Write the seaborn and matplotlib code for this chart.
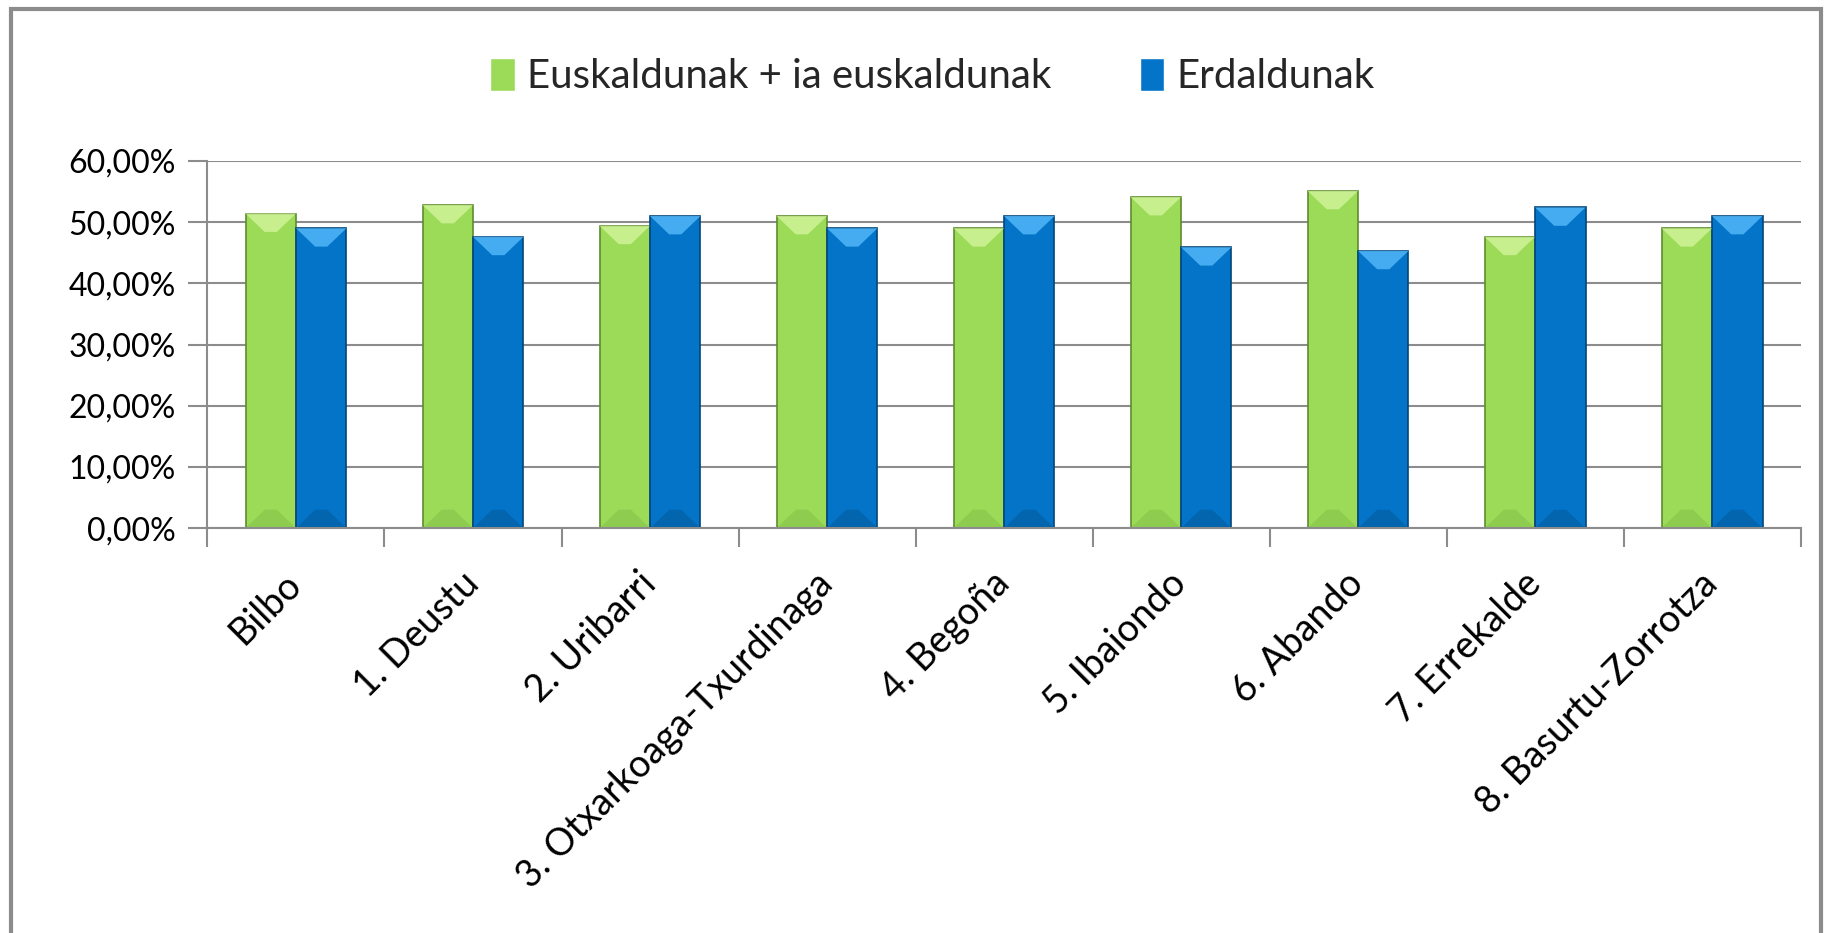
import pandas as pd
import matplotlib.pyplot as plt
import seaborn as sns
from matplotlib.patches import Rectangle, Polygon
from matplotlib.ticker import FixedLocator

# Data
barrutiak = ['Bilbo', '1. Deustu', '2. Uribarri', '3. Otxarkoaga-Txurdinaga', '4. Begoña',
             '5. Ibaiondo', '6. Abando', '7. Errekalde', '8. Basurtu-Zorrotza']
euskaldunak = [0.514, 0.528, 0.494, 0.510, 0.490, 0.541, 0.551, 0.476, 0.490]
erdaldunak = [0.490, 0.476, 0.510, 0.490, 0.510, 0.459, 0.453, 0.524, 0.510]
series_names = ['Euskaldunak + ia euskaldunak', 'Erdaldunak']
ytick_vals = [0, 0.1, 0.2, 0.3, 0.4, 0.5, 0.6]
colors = ['#9BDB58', '#0474C8']
edge_colors = ['#5E8C2E', '#02457A']
light_colors = ['#D8F7A0', '#5CC0FF']
dark_colors = ['#86C24A', '#035C9E']

df = pd.DataFrame({'Barrutia': barrutiak * 2,
                   'Balioa': euskaldunak + erdaldunak,
                   'Taldea': [series_names[0]] * len(barrutiak) + [series_names[1]] * len(barrutiak)})

sns.set_theme(style='white')
plt.rcParams['font.family'] = ['Lato', 'DejaVu Sans']

fig = plt.figure(figsize=(18.28, 9.33), dpi=100)
ax = fig.add_axes([0.1135, 0.434, 0.8715, 0.3935])

sns.barplot(data=df, x='Barrutia', y='Balioa', hue='Taldea', palette=colors,
            width=0.57, saturation=1, ax=ax, legend=True)

# bevel look: darker edge, light chevron at the top, faint dark one at the bottom
for cont, ec, lc, dc in zip(ax.containers, edge_colors, light_colors, dark_colors):
    for p in cont.patches:
        p.set_edgecolor(ec)
        p.set_linewidth(1.2)
        x0, y0 = p.get_x(), p.get_y()
        w, h = p.get_width(), p.get_height()
        d = 0.03
        top = Polygon([(x0, y0 + h), (x0 + w, y0 + h), (x0 + w * 0.62, y0 + h - d),
                       (x0 + w * 0.38, y0 + h - d)], closed=True,
                      facecolor=lc, edgecolor='none', alpha=0.75, zorder=p.get_zorder() + 0.1)
        bot = Polygon([(x0, y0), (x0 + w, y0), (x0 + w * 0.62, y0 + d),
                       (x0 + w * 0.38, y0 + d)], closed=True,
                      facecolor=dc, edgecolor='none', alpha=0.6, zorder=p.get_zorder() + 0.1)
        ax.add_patch(top)
        ax.add_patch(bot)

ax.set_ylim(0, 0.6)
ax.set_xlim(-0.5, len(barrutiak) - 0.5)
ax.set_yticks(ytick_vals)
ax.set_yticklabels([f'{v * 100:.2f}%'.replace('.', ',') for v in ytick_vals])
ax.yaxis.grid(True, color='#8C8C8C', linewidth=1.5)
ax.set_axisbelow(True)

ax.set_xticks(range(len(barrutiak)))
ax.set_xticklabels(barrutiak, rotation=45, ha='right', va='center', rotation_mode='anchor')
ax.xaxis.set_minor_locator(FixedLocator([i - 0.5 for i in range(len(barrutiak) + 1)]))
ax.tick_params(axis='x', which='major', length=0, pad=36, labelsize=27, colors='#000000')
ax.tick_params(axis='x', which='minor', bottom=True, length=14, width=1.5, color='#8C8C8C')
ax.tick_params(axis='y', left=True, length=14, width=1.5, color='#8C8C8C', pad=9,
               labelsize=23, labelcolor='#000000')

for s in ['top', 'right']:
    ax.spines[s].set_visible(False)
for s in ['left', 'bottom']:
    ax.spines[s].set_color('#8C8C8C')
    ax.spines[s].set_linewidth(1.5)

ax.set_xlabel('')
ax.set_ylabel('')

handles, labels = ax.get_legend_handles_labels()
ax.legend(handles, labels, loc='center', bbox_to_anchor=(0.51, 0.918),
          bbox_transform=fig.transFigure, ncol=2, frameon=False, fontsize=29,
          handlelength=0.6, handleheight=0.9, handletextpad=0.3, columnspacing=2.2)

# outer chart border
fig.patches.append(Rectangle((0.006, -0.05), 0.99, 1.04, transform=fig.transFigure,
                             fill=False, edgecolor='#8C8C8C', linewidth=3))

fig.savefig('out.png', dpi=100)
